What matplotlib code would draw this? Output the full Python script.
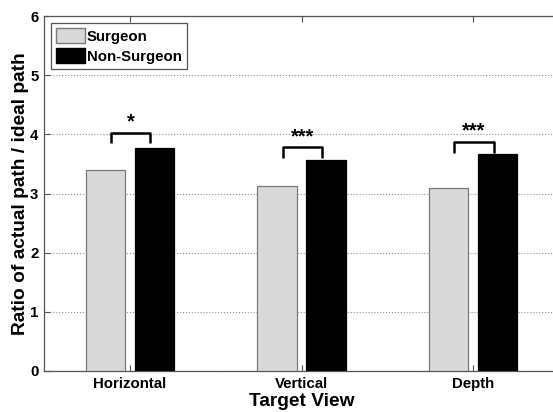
import numpy as np
import matplotlib.pyplot as plt
from matplotlib.patches import Patch

plt.rcParams['font.family'] = ['Liberation Sans', 'DejaVu Sans']
plt.rcParams['font.weight'] = 'bold'

# ============================= DATA =============================
views = ['Horizontal', 'Vertical', 'Depth']
surgeon = [3.40, 3.13, 3.10]
non_surgeon = [3.77, 3.56, 3.67]
bracket_top = [4.03, 3.78, 3.87]
stars = ['*', '***', '***']
yticks = [0, 1, 2, 3, 4, 5, 6]

# ============================= PLOT =============================
fig = plt.figure(figsize=(5.53, 4.12), dpi=100)
ax = fig.add_axes([44 / 553, 1 - 371 / 412, 515 / 553, 355 / 412])

x = np.arange(1, len(views) + 1)
w = 0.2286
off = 0.1429
ax.bar(x - off, surgeon, w, color='#d9d9d9', edgecolor='#7a7a7a', lw=0.9, zorder=3)
ax.bar(x + off, non_surgeon, w, color='black', edgecolor='black', lw=0.9, zorder=3)

# significance brackets
for xi, top, s in zip(x, bracket_top, stars):
    xl, xr = xi - 0.11, xi + 0.12
    ax.plot([xl, xl, xr, xr], [top - 0.18, top, top, top - 0.18],
            color='black', lw=1.8, zorder=4, solid_capstyle='butt')
    ax.text((xl + xr) / 2, top + 0.02, s, ha='center', va='bottom',
            fontsize=14.5, fontweight='bold')

ax.set_xlim(0.5, 3.5)
ax.set_ylim(0, 6)
ax.set_yticks(yticks)
ax.set_xticks(x)
ax.set_xticklabels(views)
ax.yaxis.grid(True, ls=':', color='#909090', lw=0.8, zorder=0)
ax.set_axisbelow(True)

ax.tick_params(direction='in', top=True, right=True, length=4, width=0.8,
               labelsize=10.8, colors='#555555', labelcolor='black', pad=4)
for sp in ax.spines.values():
    sp.set_color('#555555')
    sp.set_linewidth(0.9)

ax.set_xlabel('Target View', fontsize=13.8, fontweight='bold', labelpad=2)
ax.set_ylabel('Ratio of actual path / ideal path', fontsize=13.8,
              fontweight='bold', labelpad=1)

handles = [Patch(facecolor='#d9d9d9', edgecolor='#7a7a7a', label='Surgeon'),
           Patch(facecolor='black', edgecolor='black', label='Non-Surgeon')]
leg = ax.legend(handles=handles, loc='upper left', fontsize=10.8,
                fancybox=False, edgecolor='#555555', framealpha=1,
                borderaxespad=0.45, handlelength=1.9, handleheight=1.15,
                handletextpad=0.15, labelspacing=0.3, borderpad=0.35)
leg.get_frame().set_linewidth(0.9)
for t in leg.get_texts():
    t.set_fontweight('bold')

plt.savefig('out.png', dpi=100)
